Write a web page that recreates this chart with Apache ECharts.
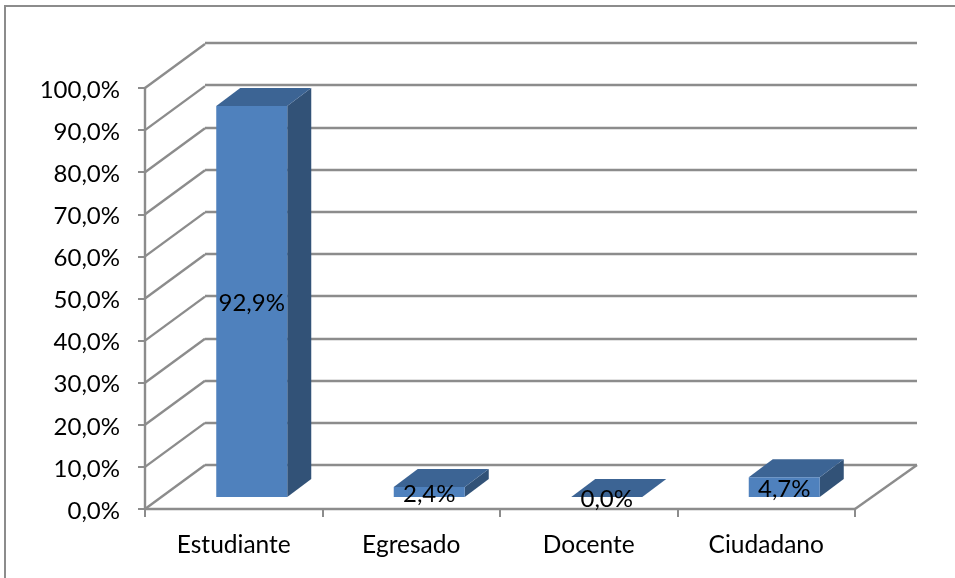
<!DOCTYPE html>
<html>
<head>
<meta charset="utf-8">
<style>html,body{margin:0;padding:0;background:#fff}#chart{width:955px;height:578px}</style>
<script src="https://cdn.jsdelivr.net/npm/echarts@6/dist/echarts.min.js"></script>
</head>
<body>
<div id="chart"></div>
<script>
// Respondent categories and their share, in percent
const categories = ['Estudiante', 'Egresado', 'Docente', 'Ciudadano'];
const shares = [92.9, 2.4, 0.0, 4.7];
const wallTicks = [0, 10, 20, 30, 40, 50, 60, 70, 80, 90, 100];

const FONT = 'Lato, "Open Sans", sans-serif';
const FONT_SIZE = 24;
const GRID_GRAY = '#8c8c8c';
const LINE_WIDTH = 2.4;
const FACE = '#4f81bd', TOP = '#3c6494', SIDE = '#325277';
const toComma = v => v.toFixed(1).replace('.', ',') + '%';

// Oblique projection: how far the back wall sits from the front plane, and
// where each bar's box sits inside that depth.
const WALL_DX = 60, WALL_DY = -44;
const BAR_DX = 18, BAR_DY = -12;
const DEPTH_DX = 24, DEPTH_DY = -18;
const BAR_WIDTH = 71;

function renderBar(params, api) {
  const i = api.value(0), v = api.value(1);
  const base = api.coord([i, 0]), head = api.coord([i, v]);
  const l = base[0] + BAR_DX - BAR_WIDTH / 2, r = l + BAR_WIDTH;
  const b = base[1] + BAR_DY, t = head[1] + BAR_DY;
  const poly = (points, fill) => ({
    type: 'polygon', shape: { points }, style: { fill, stroke: null }
  });
  const children = [
    poly([[r, b], [r + DEPTH_DX, b + DEPTH_DY], [r + DEPTH_DX, t + DEPTH_DY], [r, t]], SIDE),
    poly([[l, t], [l + DEPTH_DX, t + DEPTH_DY], [r + DEPTH_DX, t + DEPTH_DY], [r, t]], TOP),
    poly([[l, t], [r, t], [r, b], [l, b]], FACE),
    {
      type: 'text',
      z2: 10,
      style: {
        x: (l + r) / 2, y: (t + b) / 2 + 2,
        text: toComma(v), fill: '#000', font: FONT_SIZE + 'px ' + FONT,
        align: 'center', verticalAlign: 'middle'
      }
    }
  ];
  return { type: 'group', children };
}

// Side-wall diagonals joining each front tick to its back-wall gridline
function renderDiagonal(params, api) {
  const p = api.coord([0, api.value(0)]);
  const x0 = p[0] - (api.size([1, 0])[0]) / 2;
  return {
    type: 'line',
    shape: { x1: x0, y1: p[1], x2: x0 + WALL_DX, y2: p[1] + WALL_DY },
    style: { stroke: GRID_GRAY, lineWidth: LINE_WIDTH }
  };
}

// Right edge of the floor
function renderFloorEdge(params, api) {
  const p = api.coord([categories.length - 1, 0]);
  const x0 = p[0] + api.size([1, 0])[0] / 2;
  return {
    type: 'line',
    shape: { x1: x0, y1: p[1], x2: x0 + WALL_DX + 2, y2: p[1] + WALL_DY },
    style: { stroke: GRID_GRAY, lineWidth: LINE_WIDTH }
  };
}

const chart = echarts.init(document.getElementById('chart'));
chart.setOption({
  animation: false,
  backgroundColor: '#fff',
  textStyle: { fontFamily: FONT },
  graphic: [
    { type: 'line', silent: true, shape: { x1: 5, y1: 6, x2: 955, y2: 6 }, style: { stroke: GRID_GRAY, lineWidth: 2 } },
    { type: 'line', silent: true, shape: { x1: 5, y1: 5, x2: 5, y2: 578 }, style: { stroke: GRID_GRAY, lineWidth: 2 } }
  ],
  grid: [
    { left: 145, top: 88, width: 710, height: 421 },
    { left: 205, top: 43, width: 712, height: 422 }
  ],
  xAxis: [
    {
      type: 'category', gridIndex: 0, data: categories,
      axisLine: { lineStyle: { color: GRID_GRAY, width: LINE_WIDTH } },
      axisTick: { show: true, alignWithLabel: false, length: 8, lineStyle: { color: GRID_GRAY, width: 2 } },
      axisLabel: { color: '#000', fontSize: 24.5, fontFamily: FONT, margin: 24 },
      splitLine: { show: false }
    },
    { type: 'value', gridIndex: 1, min: 0, max: 1, show: false, splitLine: { show: false } }
  ],
  yAxis: [
    {
      type: 'value', gridIndex: 0, min: 0, max: 100, interval: 10,
      axisLine: { show: true, lineStyle: { color: GRID_GRAY, width: LINE_WIDTH } },
      axisTick: { show: true, length: 7, lineStyle: { color: GRID_GRAY, width: 2 } },
      axisLabel: {
        margin: 25,
        formatter: v => '{tick|' + toComma(v) + '}',
        rich: { tick: { color: '#000', fontSize: FONT_SIZE, fontFamily: FONT, padding: [4, 0, 0, 0] } }
      },
      splitLine: { show: false }
    },
    {
      type: 'value', gridIndex: 1, min: 0, max: 100, interval: 10,
      axisLine: { show: false }, axisTick: { show: false }, axisLabel: { show: false },
      splitLine: { show: true, lineStyle: { color: GRID_GRAY, width: LINE_WIDTH } }
    }
  ],
  series: [
    {
      type: 'custom', name: 'wall', xAxisIndex: 0, yAxisIndex: 0, silent: true, z: 1,
      clip: false, encode: { y: 0 }, data: wallTicks.map(v => [v]), renderItem: renderDiagonal
    },
    {
      type: 'custom', name: 'floor', xAxisIndex: 0, yAxisIndex: 0, silent: true, z: 1,
      clip: false, data: [[0]], renderItem: renderFloorEdge
    },
    {
      type: 'custom', name: 'Porcentaje', xAxisIndex: 0, yAxisIndex: 0, z: 5, clip: false,
      encode: { x: 0, y: 1 },
      data: shares.map((v, i) => [i, v]), renderItem: renderBar
    }
  ]
});
</script>
</body>
</html>
